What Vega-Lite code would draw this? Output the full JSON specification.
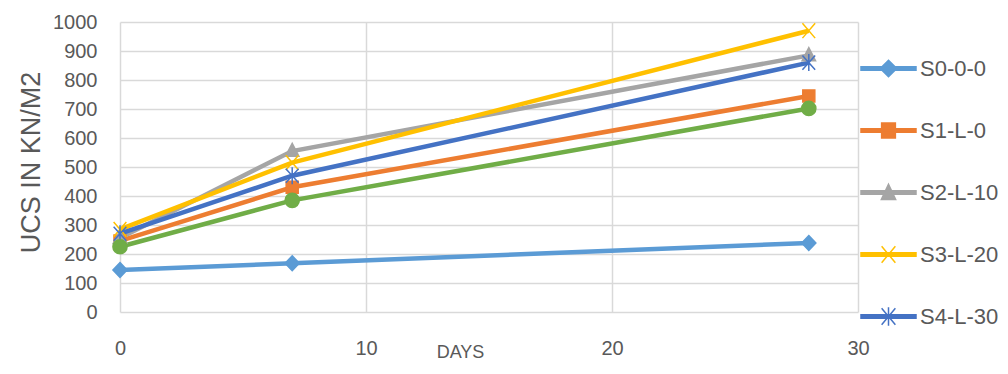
{
  "$schema": "https://vega.github.io/schema/vega-lite/v6.json",
  "width": 738,
  "height": 290,
  "autosize": "none",
  "padding": {"left": 120, "top": 22, "right": 150, "bottom": 62},
  "background": "white",
  "config": {
    "view": {"stroke": null},
    "font": "Liberation Sans",
    "axis": {
      "labelColor": "#595959",
      "titleColor": "#595959",
      "labelFontSize": 20,
      "titleFontWeight": "normal",
      "gridColor": "#d9d9d9",
      "gridWidth": 1.5,
      "domain": false,
      "ticks": false
    },
    "legend": {
      "orient": "none",
      "legendX": 740,
      "legendY": 18,
      "symbolSize": 3025,
      "symbolStrokeWidth": 1.5,
      "labelFontSize": 22,
      "labelColor": "#595959",
      "labelOffset": 3,
      "rowPadding": 22
    }
  },
  "data": {
    "values": [
      {"series": "S0-0-0", "day": 0, "ucs": 145},
      {"series": "S0-0-0", "day": 7, "ucs": 168},
      {"series": "S0-0-0", "day": 28, "ucs": 238},
      {"series": "S1-L-0", "day": 0, "ucs": 245},
      {"series": "S1-L-0", "day": 7, "ucs": 430},
      {"series": "S1-L-0", "day": 28, "ucs": 745},
      {"series": "S2-L-10", "day": 0, "ucs": 255},
      {"series": "S2-L-10", "day": 7, "ucs": 555},
      {"series": "S2-L-10", "day": 28, "ucs": 885},
      {"series": "S3-L-20", "day": 0, "ucs": 285},
      {"series": "S3-L-20", "day": 7, "ucs": 515},
      {"series": "S3-L-20", "day": 28, "ucs": 970},
      {"series": "S4-L-30", "day": 0, "ucs": 270},
      {"series": "S4-L-30", "day": 7, "ucs": 470},
      {"series": "S4-L-30", "day": 28, "ucs": 860},
      {"series": "S5-L-40", "day": 0, "ucs": 225},
      {"series": "S5-L-40", "day": 7, "ucs": 385},
      {"series": "S5-L-40", "day": 28, "ucs": 702}
    ]
  },
  "encoding": {
    "x": {
      "field": "day",
      "type": "quantitative",
      "scale": {"domain": [0, 30], "nice": false},
      "axis": {
        "values": [0, 10, 20, 30],
        "title": "DAYS",
        "titleFontSize": 18,
        "titleX": 340,
        "titleY": 40,
        "titleBaseline": "middle",
        "labelPadding": 26,
        "labelBaseline": "top",
        "labelFlush": false
      }
    },
    "y": {
      "field": "ucs",
      "type": "quantitative",
      "scale": {"domain": [0, 1000], "nice": false},
      "axis": {
        "values": [0, 100, 200, 300, 400, 500, 600, 700, 800, 900, 1000],
        "format": "d",
        "title": "UCS IN KN/M2",
        "titleFontSize": 27,
        "titleX": -89,
        "titleY": 140,
        "titleAngle": -90,
        "titleAlign": "center",
        "titleBaseline": "middle",
        "labelPadding": 23
      }
    }
  },
  "resolve": {"scale": {"shape": "independent", "stroke": "independent", "fill": "independent"}},
  "layer": [
    {
      "mark": {"type": "line", "strokeWidth": 4.5},
      "encoding": {
        "color": {
          "field": "series",
          "type": "nominal",
          "scale": {
            "domain": ["S0-0-0", "S1-L-0", "S2-L-10", "S3-L-20", "S4-L-30", "S5-L-40"],
            "range": ["#5B9BD5", "#ED7D31", "#A5A5A5", "#FFC000", "#4472C4", "#70AD47"]
          },
          "legend": null
        }
      }
    },
    {
      "mark": {"type": "point", "filled": true, "size": 200, "strokeWidth": 1.5, "opacity": 1},
      "encoding": {
        "color": {
          "field": "series",
          "type": "nominal",
          "scale": {
            "domain": ["S0-0-0", "S1-L-0", "S2-L-10", "S3-L-20", "S4-L-30", "S5-L-40"],
            "range": ["#5B9BD5", "#ED7D31", "#A5A5A5", "#FFC000", "#4472C4", "#70AD47"]
          },
          "legend": null
        },
        "shape": {
          "field": "series",
          "type": "nominal",
          "scale": {
            "domain": ["S0-0-0", "S1-L-0", "S2-L-10", "S3-L-20", "S4-L-30", "S5-L-40"],
            "range": [
              "M0,-1.05L1,0L0,1.05L-1,0Z",
              "M-0.85,-0.85H0.85V0.85H-0.85Z",
              "M0,-1.1L0.95,0.75H-0.95Z",
              "M-0.9,-1.05L0.9,1.05M-0.9,1.05L0.9,-1.05",
              "M-0.9,-1L0.9,1M-0.9,1L0.9,-1M0,-1.2V1.2",
              "circle"
            ]
          },
          "legend": null
        },
        "stroke": {
          "field": "series",
          "type": "nominal",
          "scale": {
            "domain": ["S0-0-0", "S1-L-0", "S2-L-10", "S3-L-20", "S4-L-30", "S5-L-40"],
            "range": ["#5B9BD5", "#ED7D31", "#A5A5A5", "#FFC000", "#4472C4", "#70AD47"]
          },
          "legend": null
        }
      }
    },
    {
      "transform": [{"filter": "false"}],
      "mark": {"type": "point", "filled": true, "size": 3025, "strokeWidth": 1.5, "opacity": 1},
      "encoding": {
        "fill": {
          "field": "series",
          "type": "nominal",
          "scale": {
            "domain": ["S0-0-0", "S1-L-0", "S2-L-10", "S3-L-20", "S4-L-30", "S5-L-40"],
            "range": ["#5B9BD5", "#ED7D31", "#A5A5A5", "#FFC000", "#4472C4", "#70AD47"]
          },
          "legend": {"title": null, "values": ["S0-0-0", "S1-L-0", "S2-L-10", "S3-L-20", "S4-L-30"]}
        },
        "stroke": {
          "field": "series",
          "type": "nominal",
          "scale": {
            "domain": ["S0-0-0", "S1-L-0", "S2-L-10", "S3-L-20", "S4-L-30", "S5-L-40"],
            "range": ["#5B9BD5", "#ED7D31", "#A5A5A5", "#FFC000", "#4472C4", "#70AD47"]
          },
          "legend": {"title": null, "values": ["S0-0-0", "S1-L-0", "S2-L-10", "S3-L-20", "S4-L-30"]}
        },
        "shape": {
          "field": "series",
          "type": "nominal",
          "scale": {
            "domain": ["S0-0-0", "S1-L-0", "S2-L-10", "S3-L-20", "S4-L-30", "S5-L-40"],
            "range": [
              "M-1,-0.065H1V0.065H-1ZM0,-0.3L0.3,0L0,0.3L-0.3,0Z",
              "M-1,-0.065H1V0.065H-1ZM-0.25,-0.27H0.25V0.27H-0.25Z",
              "M-1,-0.065H1V0.065H-1ZM0,-0.3L0.26,0.25H-0.26Z",
              "M-1,-0.065H1V0.065H-1ZM-0.25,-0.3L0.25,0.3M-0.25,0.3L0.25,-0.3",
              "M-1,-0.065H1V0.065H-1ZM-0.25,-0.3L0.25,0.3M-0.25,0.3L0.25,-0.3M0,-0.34V0.34",
              "M-1,-0.065H1V0.065H-1ZM0,-0.28A0.28,0.28,0,1,1,0,0.28A0.28,0.28,0,1,1,0,-0.28Z"
            ]
          },
          "legend": {"title": null, "values": ["S0-0-0", "S1-L-0", "S2-L-10", "S3-L-20", "S4-L-30"]}
        }
      }
    }
  ]
}
